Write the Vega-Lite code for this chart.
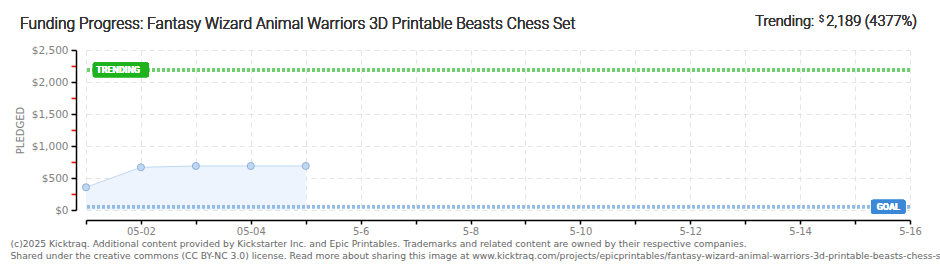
{
  "$schema": "https://vega.github.io/schema/vega-lite/v6.json",
  "width": 824,
  "height": 160,
  "autosize": {"type": "none"},
  "padding": {"left": 86, "top": 50, "right": 30, "bottom": 60},
  "background": "white",
  "config": {"view": {"stroke": null}, "font": "DejaVu Sans"},
  "data": {
    "values": [
      {"date": "2025-05-01", "pledged": 355},
      {"date": "2025-05-02", "pledged": 667},
      {"date": "2025-05-03", "pledged": 688},
      {"date": "2025-05-04", "pledged": 688},
      {"date": "2025-05-05", "pledged": 688}
    ]
  },
  "layer": [
    {
      "mark": {"type": "area", "color": "#edf4fd", "opacity": 1},
      "encoding": {
        "x": {
          "field": "date",
          "type": "temporal",
          "scale": {
            "type": "utc",
            "domain": [
              {"year": 2025, "month": 5, "date": 1, "utc": true},
              {"year": 2025, "month": 5, "date": 16, "utc": true}
            ]
          },
          "axis": {
            "values": [
              {"year": 2025, "month": 5, "date": 1, "utc": true},
              {"year": 2025, "month": 5, "date": 2, "utc": true},
              {"year": 2025, "month": 5, "date": 3, "utc": true},
              {"year": 2025, "month": 5, "date": 4, "utc": true},
              {"year": 2025, "month": 5, "date": 5, "utc": true},
              {"year": 2025, "month": 5, "date": 6, "utc": true},
              {"year": 2025, "month": 5, "date": 7, "utc": true},
              {"year": 2025, "month": 5, "date": 8, "utc": true},
              {"year": 2025, "month": 5, "date": 9, "utc": true},
              {"year": 2025, "month": 5, "date": 10, "utc": true},
              {"year": 2025, "month": 5, "date": 11, "utc": true},
              {"year": 2025, "month": 5, "date": 12, "utc": true},
              {"year": 2025, "month": 5, "date": 13, "utc": true},
              {"year": 2025, "month": 5, "date": 14, "utc": true},
              {"year": 2025, "month": 5, "date": 15, "utc": true},
              {"year": 2025, "month": 5, "date": 16, "utc": true}
            ],
            "tickCount": 40,
            "offset": 10,
            "domainColor": "#000000",
            "domainWidth": 1.5,
            "tickColor": "#000000",
            "tickWidth": 1.5,
            "tickSize": 4,
            "labelExpr": "utcdate(datum.value) % 2 == 1 ? '' : (utcdate(datum.value) < 5 ? utcFormat(datum.value, '%m-%d') : utcFormat(datum.value, '%-m-%-d'))",
            "labelFont": "DejaVu Sans",
            "labelColor": "#808080",
            "labelFontSize": 10,
            "labelPadding": 2,
            "labelOverlap": false,
            "labelFlush": false,
            "grid": true,
            "gridColor": "#e4e4e4",
            "gridDash": [5, 4],
            "title": [
              "(c)2025 Kicktraq. Additional content provided by Kickstarter Inc. and Epic Printables. Trademarks and related content are owned by their respective companies.",
              "Shared under the creative commons (CC BY-NC 3.0) license. Read more about sharing this image at www.kicktraq.com/projects/epicprintables/fantasy-wizard-animal-warriors-3d-printable-beasts-chess-set/"
            ],
            "titleFont": "DejaVu Sans",
            "titleFontSize": 9.2,
            "titleFontWeight": "normal",
            "titleColor": "#666666",
            "titleAnchor": "start",
            "titleAlign": "left",
            "titleBaseline": "alphabetic",
            "titleX": -76,
            "titleY": 26,
            "titleLineHeight": 12.5
          }
        },
        "y": {
          "field": "pledged",
          "type": "quantitative",
          "scale": {"domain": [0, 2500], "nice": false},
          "axis": {
            "values": [0, 250, 500, 750, 1000, 1250, 1500, 1750, 2000, 2250, 2500],
            "tickCount": 40,
            "offset": 10,
            "domainColor": "#000000",
            "domainWidth": 1.5,
            "tickSize": 5,
            "tickWidth": 1.5,
            "tickColor": {"condition": {"test": "datum.value % 500 != 0", "value": "#ff0000"}, "value": "#000000"},
            "labelExpr": "datum.value % 500 != 0 ? '' : format(datum.value, '$,d')",
            "labelFont": "DejaVu Sans",
            "labelColor": "#808080",
            "labelFontSize": 10.5,
            "labelPadding": 3,
            "labelOverlap": false,
            "labelFlush": false,
            "grid": true,
            "gridColor": "#e4e4e4",
            "gridDash": [5, 4],
            "gridOpacity": {"condition": {"test": "datum.value % 500 != 0", "value": 0}, "value": 1},
            "title": "PLEDGED",
            "titleFont": "DejaVu Sans",
            "titleColor": "#808080",
            "titleFontSize": 10,
            "titleFontWeight": "normal",
            "titlePadding": 6
          }
        }
      }
    },
    {
      "mark": {"type": "line", "color": "#c0d8f2", "strokeWidth": 1},
      "encoding": {
        "x": {"field": "date", "type": "temporal"},
        "y": {"field": "pledged", "type": "quantitative"}
      }
    },
    {
      "mark": {"type": "rule", "color": "#6ccf6c", "strokeWidth": 3, "strokeDash": [3, 2]},
      "encoding": {"y": {"datum": 2189, "type": "quantitative"}}
    },
    {
      "mark": {"type": "rule", "color": "#92bbe8", "strokeWidth": 3, "strokeDash": [3, 2]},
      "encoding": {"y": {"datum": 50, "type": "quantitative"}}
    },
    {
      "mark": {"type": "point", "filled": true, "fill": "#bed8f4", "stroke": "#8fb0d6", "strokeWidth": 1, "size": 50, "opacity": 1},
      "encoding": {
        "x": {"field": "date", "type": "temporal"},
        "y": {"field": "pledged", "type": "quantitative"}
      }
    },
    {
      "mark": {"type": "rect", "color": "#1db31d", "cornerRadius": 2},
      "encoding": {
        "x": {"datum": {"year": 2025, "month": 5, "date": 1, "hours": 3, "utc": true}, "type": "temporal"},
        "x2": {"datum": {"year": 2025, "month": 5, "date": 2, "hours": 3, "minutes": 30, "utc": true}},
        "y": {"datum": 2305, "type": "quantitative"},
        "y2": {"datum": 2075}
      }
    },
    {
      "mark": {"type": "text", "text": "TRENDING", "color": "#ffffff", "fontSize": 9, "fontWeight": "bold", "align": "center", "baseline": "middle", "font": "Roboto"},
      "encoding": {
        "x": {"datum": {"year": 2025, "month": 5, "date": 1, "hours": 14, "utc": true}, "type": "temporal"},
        "y": {"datum": 2189, "type": "quantitative"}
      }
    },
    {
      "mark": {"type": "rect", "color": "#3b88d8", "cornerRadius": 2},
      "encoding": {
        "x": {"datum": {"year": 2025, "month": 5, "date": 15, "hours": 7, "utc": true}, "type": "temporal"},
        "x2": {"datum": {"year": 2025, "month": 5, "date": 15, "hours": 22, "utc": true}},
        "y": {"datum": 160, "type": "quantitative"},
        "y2": {"datum": -60}
      }
    },
    {
      "mark": {"type": "text", "text": "GOAL", "color": "#ffffff", "fontSize": 9, "fontWeight": "bold", "align": "center", "baseline": "middle", "font": "Roboto"},
      "encoding": {
        "x": {"datum": {"year": 2025, "month": 5, "date": 15, "hours": 14, "minutes": 30, "utc": true}, "type": "temporal"},
        "y": {"datum": 50, "type": "quantitative"}
      }
    },
    {
      "mark": {"type": "text", "text": "Funding Progress: Fantasy Wizard Animal Warriors 3D Printable Beasts Chess Set", "color": "#333333", "fontSize": 15.6, "fontWeight": 300, "font": "Roboto", "align": "left", "baseline": "alphabetic", "dx": -66, "dy": -21},
      "encoding": {
        "x": {"datum": {"year": 2025, "month": 5, "date": 1, "utc": true}, "type": "temporal"},
        "y": {"datum": 2500, "type": "quantitative"}
      }
    },
    {
      "mark": {"type": "text", "text": "Trending:", "color": "#333333", "fontSize": 14.5, "fontWeight": 300, "font": "Roboto", "align": "right", "baseline": "alphabetic", "dx": -96, "dy": -24},
      "encoding": {
        "x": {"datum": {"year": 2025, "month": 5, "date": 16, "utc": true}, "type": "temporal"},
        "y": {"datum": 2500, "type": "quantitative"}
      }
    },
    {
      "mark": {"type": "text", "text": "$", "color": "#333333", "fontSize": 9, "fontWeight": 300, "font": "Roboto", "align": "right", "baseline": "alphabetic", "dx": -86, "dy": -28},
      "encoding": {
        "x": {"datum": {"year": 2025, "month": 5, "date": 16, "utc": true}, "type": "temporal"},
        "y": {"datum": 2500, "type": "quantitative"}
      }
    },
    {
      "mark": {"type": "text", "text": "2,189 (4377%)", "color": "#333333", "fontSize": 14.5, "fontWeight": 300, "font": "Roboto", "align": "right", "baseline": "alphabetic", "dx": 7, "dy": -24},
      "encoding": {
        "x": {"datum": {"year": 2025, "month": 5, "date": 16, "utc": true}, "type": "temporal"},
        "y": {"datum": 2500, "type": "quantitative"}
      }
    }
  ]
}
